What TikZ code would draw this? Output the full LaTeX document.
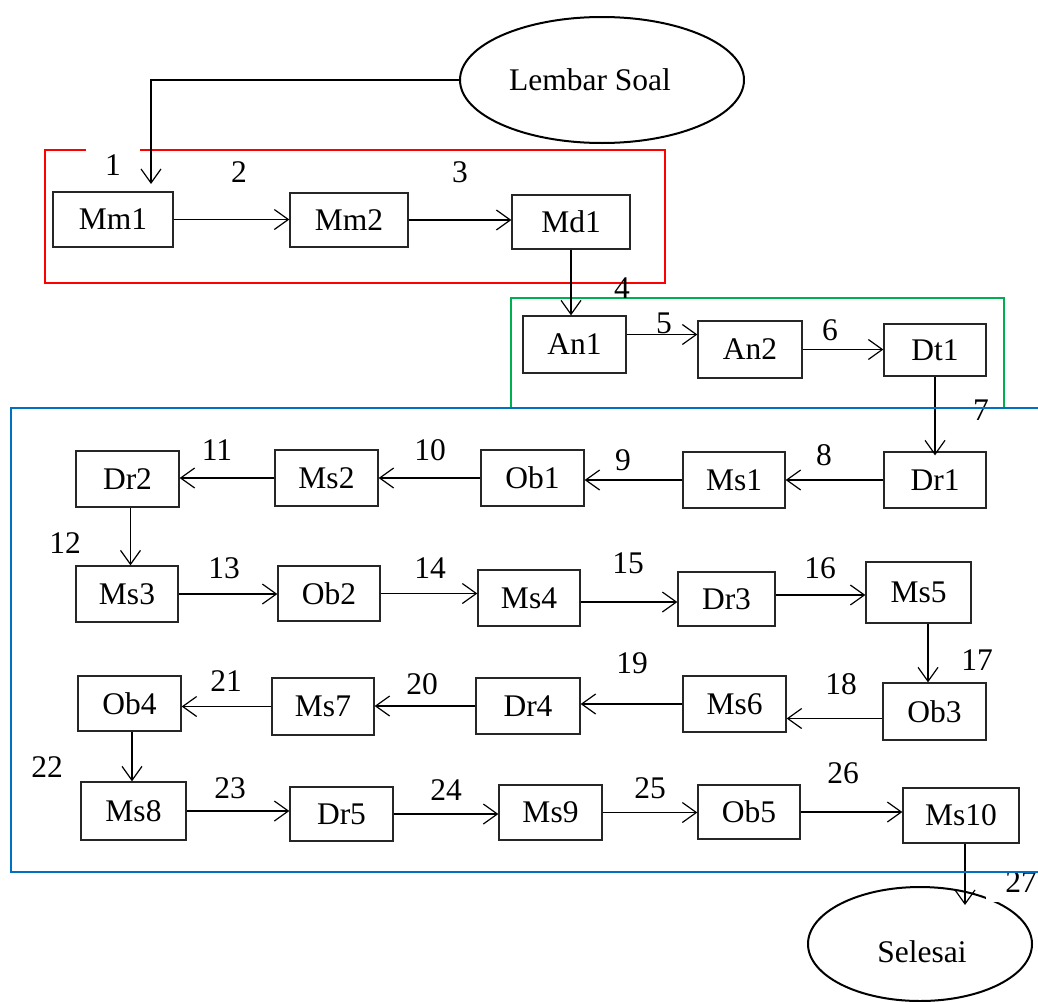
\documentclass[tikz,border=0pt]{standalone}
\usepackage{fontspec}
\setmainfont{Liberation Serif}
\usetikzlibrary{arrows.meta,shapes.geometric}
\definecolor{frameRed}{RGB}{255,0,0}
\definecolor{frameGreen}{RGB}{0,176,80}
\definecolor{frameBlue}{RGB}{0,112,192}
\tikzset{
  box/.style={draw=black!85, line width=1.3pt, inner sep=0pt, fill=white,
    font=\fontsize{31.5}{36}\selectfont},
  oval/.style={draw=black, line width=2pt, ellipse, inner sep=0pt,
    font=\fontsize{31.5}{36}\selectfont},
  flow/.style={line width=1.2pt, -{Straight Barb[length=14pt,width=20pt,line width=1.2pt]}},
  num/.style={inner sep=0pt, font=\fontsize{31.5}{36}\selectfont},
  numcut/.style={fill=white, inner xsep=19pt, inner ysep=10pt,
    font=\fontsize{31.5}{36}\selectfont},
  frame/.style={line width=2.5pt}
}
\begin{document}
\begin{tikzpicture}[x=1pt,y=-1pt]
\clip (0,0) rectangle (1038,1001);
\fill[white] (0,0) rectangle (1038,1001);

% phase frames
\draw[frame, frameRed] (45,150) rectangle (665,283);
\draw[frame, frameGreen] (511,298) rectangle (1004,408);

% start and end
\node[oval, minimum width=284pt, minimum height=126pt] (ls) at (602,80) {\hspace*{-24pt}Lembar Soal};
\node[oval, minimum width=224pt, minimum height=114pt] (sel) at (920,944) {};
\node[num] (seltxt) at (922,952) {Selesai};

% steps
\node[box, minimum width=120pt, minimum height=55pt] (mm1) at (113,219.5) {Mm1};
\node[box, minimum width=118pt, minimum height=54pt] (mm2) at (349,220) {Mm2};
\node[box, minimum width=118pt, minimum height=54pt] (md1) at (571,222) {Md1};

\node[box, minimum width=103pt, minimum height=57pt] (an1) at (574.5,344.5) {An1};
\node[box, minimum width=104pt, minimum height=57pt] (an2) at (750,349.5) {An2};
\node[box, minimum width=102pt, minimum height=52pt] (dt1) at (935,350) {Dt1};

\node[box, minimum width=102pt, minimum height=56pt] (dr1) at (935,480) {Dr1};
\node[box, minimum width=102pt, minimum height=56pt] (ms1) at (734,480) {Ms1};
\node[box, minimum width=103pt, minimum height=56pt] (ob1) at (532.5,478) {Ob1};
\node[box, minimum width=103pt, minimum height=56pt] (ms2) at (326.5,478) {Ms2};
\node[box, minimum width=103pt, minimum height=56pt] (dr2) at (127.5,479) {Dr2};

\node[box, minimum width=102pt, minimum height=56pt] (ms3) at (127,594) {Ms3};
\node[box, minimum width=102pt, minimum height=55pt] (ob2) at (329,593.5) {Ob2};
\node[box, minimum width=102pt, minimum height=56pt] (ms4) at (529,598) {Ms4};
\node[box, minimum width=97pt, minimum height=54pt] (dr3) at (726.5,599) {Dr3};
\node[box, minimum width=105pt, minimum height=61pt] (ms5) at (918.5,592.5) {Ms5};

\node[box, minimum width=103pt, minimum height=57pt] (ob3) at (934.5,711.5) {Ob3};
\node[box, minimum width=103pt, minimum height=56pt] (ms6) at (734.5,704) {Ms6};
\node[box, minimum width=104pt, minimum height=56pt] (dr4) at (528,706) {Dr4};
\node[box, minimum width=102pt, minimum height=57pt] (ms7) at (323,706.5) {Ms7};
\node[box, minimum width=103pt, minimum height=55pt] (ob4) at (129.5,703.5) {Ob4};

\node[box, minimum width=105pt, minimum height=58pt] (ms8) at (133.5,811) {Ms8};
\node[box, minimum width=103pt, minimum height=54pt] (dr5) at (341.5,814) {Dr5};
\node[box, minimum width=103pt, minimum height=55pt] (ms9) at (550.5,812.5) {Ms9};
\node[box, minimum width=102pt, minimum height=54pt] (ob5) at (749,812) {Ob5};
\node[box, minimum width=116pt, minimum height=55pt] (ms10) at (961,815.5) {Ms10};

% connectors
\coordinate (into) at (151,184);
\draw[flow] (ls.west) -| (into);
\draw[flow] (mm1.east) -- (mm1.east -| mm2.west);
\draw[flow] (mm2.east) -- (mm2.east -| md1.west);
\draw[flow] (md1.south) -- (md1.south |- an1.north);
\draw[flow] ([yshift=10pt]an1.east) -- ([yshift=10pt]an1.east -| an2.west);
\draw[flow] (an2.east) -- (an2.east -| dt1.west);
\draw[flow] (dt1.south) -- ([yshift=-4pt]dt1.south |- dr1.north);

\draw[flow] (dr1.west) -- (dr1.west -| ms1.east);
\draw[flow] (ms1.west) -- (ms1.west -| ob1.east);
\draw[flow] (ob1.west) -- (ob1.west -| ms2.east);
\draw[flow] (ms2.west) -- (ms2.west -| dr2.east);
\draw[flow] ([xshift=3pt]dr2.south) -- ([xshift=3pt]dr2.south |- ms3.north);

\draw[flow] (ms3.east) -- (ms3.east -| ob2.west);
\draw[flow] (ob2.east) -- (ob2.east -| ms4.west);
\draw[flow] ([yshift=-4pt]ms4.east) -- ([yshift=-4pt]ms4.east -| dr3.west);
\draw[flow] ([yshift=4pt]dr3.east) -- ([yshift=4pt]dr3.east -| ms5.west);
\draw[flow] ([xshift=9.5pt]ms5.south) -- ([xshift=9.5pt]ms5.south |- ob3.north);

\draw[flow] ([yshift=-7pt]ob3.west) -- ([yshift=-7pt]ob3.west -| ms6.east);
\draw[flow] (ms6.west) -- (ms6.west -| dr4.east);
\draw[flow] (dr4.west) -- (dr4.west -| ms7.east);
\draw[flow] (ms7.west) -- (ms7.west -| ob4.east);
\draw[flow] ([xshift=2.5pt]ob4.south) -- ([xshift=2.5pt]ob4.south |- ms8.north);

\draw[flow] (ms8.east) -- (ms8.east -| dr5.west);
\draw[flow] (dr5.east) -- (dr5.east -| ms9.west);
\draw[flow] (ms9.east) -- (ms9.east -| ob5.west);
\draw[flow] (ob5.east) -- (ob5.east -| ms10.west);
\coordinate (outof) at (965,905);
\draw[flow] ([xshift=4pt]ms10.south) -- (outof);

% step numbers
\node[numcut] (n1) at (113,165) {1};
\node[num] (n2) at (239,172) {2};
\node[num] (n3) at (460,172) {3};
\node[num] (n4) at (622,288) {4};
\node[num] (n5) at (664,323) {5};
\node[num] (n6) at (830,330) {6};
\node[num] (n7) at (981,410) {7};
\node[num] (n8) at (824,455) {8};
\node[num] (n9) at (623,460) {9};
\node[num] (n10) at (430,450) {10};
\node[num] (n11) at (217,450) {11};
\node[num] (n12) at (65,543) {12};
\node[num] (n13) at (224,568) {13};
\node[num] (n14) at (430,568) {14};
\node[num] (n15) at (628,563) {15};
\node[num] (n16) at (820,568) {16};
\node[num] (n17) at (977,660) {17};
\node[num] (n18) at (841,684) {18};
\node[num] (n19) at (632,663) {19};
\node[num] (n20) at (422,684) {20};
\node[num] (n21) at (226,681) {21};
\node[num] (n22) at (47,767) {22};
\node[num] (n23) at (230,788) {23};
\node[num] (n24) at (446,790) {24};
\node[num] (n25) at (650,788) {25};
\node[num] (n26) at (843,773) {26};
\node[numcut] (n27) at (1021,882) {27};

% the last frame, open to the right, lies over the numbers
\draw[frame, frameBlue] (1050,408) -- (11,408) -- (11,872) -- (1050,872);
\end{tikzpicture}
\end{document}
